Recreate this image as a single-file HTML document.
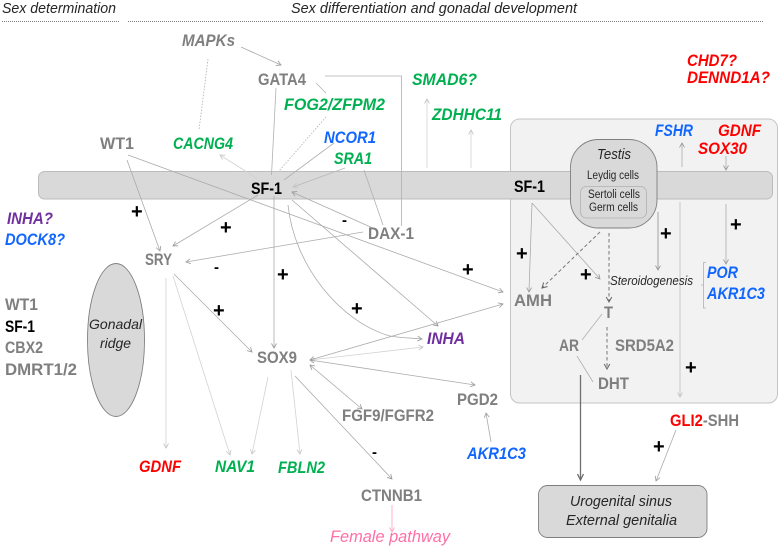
<!DOCTYPE html>
<html><head><meta charset="utf-8"><style>
html,body{margin:0;padding:0;background:#fff}
svg{display:block;filter:blur(.3px)}
text{font-family:"Liberation Sans",sans-serif;font-size:16.5px;font-weight:bold;fill:#7f7f7f}
.i{font-style:italic}
.g{font-style:italic;fill:#00b050}
.b{font-style:italic;fill:#1166ff}
.r{font-style:italic;fill:#ff0000}
.p{font-style:italic;fill:#7030a0}
.k{fill:#000}
.n{font-weight:normal;font-style:italic;fill:#262626;font-size:15px}
.s{font-weight:normal;fill:#262626;font-size:11.5px}
.pm{fill:#000;font-size:20px}
.l{fill:none;stroke:#b0b0b0;stroke-width:.8}
.a{fill:none;stroke:#ababab;stroke-width:.8;marker-end:url(#m)}
.e{fill:none;stroke:#ababab;stroke-width:.8;marker-end:url(#m);marker-start:url(#m)}
.c{fill:none;stroke:#d2d2d2;stroke-width:.8;marker-end:url(#mc)}
.d{fill:none;stroke:#777;stroke-width:1;stroke-dasharray:3.5 2.5;marker-end:url(#md)}
</style></head><body>
<svg width="780" height="548" viewBox="0 0 780 548" xmlns="http://www.w3.org/2000/svg">
<defs>
<marker id="m" markerUnits="userSpaceOnUse" markerWidth="8" markerHeight="8" refX="6" refY="3.5" orient="auto-start-reverse"><path d="M1.5,1 L6,3.5 L1.5,6" fill="none" stroke="#999" stroke-width=".8"/></marker>
<marker id="mc" markerUnits="userSpaceOnUse" markerWidth="8" markerHeight="8" refX="6" refY="3.5" orient="auto-start-reverse"><path d="M1.5,1 L6,3.5 L1.5,6" fill="none" stroke="#c4c4c4" stroke-width=".8"/></marker>
<marker id="md" markerUnits="userSpaceOnUse" markerWidth="8" markerHeight="8" refX="6" refY="3.5" orient="auto"><path d="M1,.7 L6,3.5 L1,6.3" fill="none" stroke="#666" stroke-width="1"/></marker>
<marker id="mp" markerUnits="userSpaceOnUse" markerWidth="8" markerHeight="8" refX="6" refY="3.5" orient="auto"><path d="M1.5,1 L6,3.5 L1.5,6" fill="none" stroke="#ff9fc2" stroke-width=".8"/></marker>
<marker id="mk" markerUnits="userSpaceOnUse" markerWidth="10" markerHeight="10" refX="7" refY="4" orient="auto"><path d="M1,1 L7,4 L1,7" fill="none" stroke="#666" stroke-width="1.2"/></marker>
</defs>

<!-- panels -->
<rect x="510.5" y="119" width="267" height="284" rx="9" fill="#f2f2f2" stroke="#c4c4c4"/>
<rect x="38.5" y="171.5" width="734" height="27.5" rx="6" fill="#d9d9d9" stroke="#bcbcbc"/>
<ellipse cx="116" cy="340" rx="28.5" ry="76.5" fill="#d9d9d9" stroke="#7f7f7f" stroke-width=".9"/>
<rect x="570.5" y="139.5" width="86.5" height="88.5" rx="28" fill="#d9d9d9" stroke="#7f7f7f" stroke-width=".9"/>
<rect x="580.5" y="186.5" width="66" height="31.5" rx="6" fill="#d9d9d9" stroke="#b0b0b0" stroke-width=".8"/>
<rect x="538.5" y="485.5" width="168.5" height="52" rx="9" fill="#d9d9d9" stroke="#7f7f7f" stroke-width=".9"/>

<!-- dotted header rules -->
<line x1="2" y1="21.5" x2="120" y2="21.5" stroke="#808080" stroke-dasharray="1 1"/>
<line x1="128" y1="21.5" x2="764" y2="21.5" stroke="#808080" stroke-dasharray="1 1"/>

<!-- connectors -->
<line class="a" x1="241" y1="47" x2="281" y2="65"/>
<line class="l" x1="208" y1="59" x2="199" y2="130" stroke-dasharray="1.5 1.5"/>
<line class="l" x1="276" y1="88" x2="271.5" y2="175"/>
<path class="l" d="M325,76 H401.5 V226"/>
<line class="l" x1="316" y1="83" x2="326" y2="93"/>
<line class="l" x1="326" y1="117" x2="279" y2="171" stroke-dasharray="1.5 1.5"/>
<line class="l" x1="334" y1="143" x2="284" y2="180"/>
<line class="c" x1="345" y1="168" x2="293" y2="187" style="stroke:#b8b8b8"/>
<line class="l" x1="364" y1="170" x2="383" y2="225"/>
<line class="a" x1="375" y1="229" x2="292" y2="192"/>
<line class="a" x1="363" y1="232" x2="186" y2="262"/>
<line class="a" x1="127" y1="160" x2="160" y2="251"/>
<line class="a" x1="128" y1="155" x2="503" y2="292"/>
<line class="c" x1="258" y1="179" x2="220" y2="155"/>
<line class="a" x1="258" y1="195" x2="173" y2="246"/>
<line class="a" x1="274" y1="196" x2="274" y2="348"/>
<line class="a" x1="292" y1="200" x2="438" y2="326"/>
<path class="a" d="M288,205 C294,265 340,322 390,336 C402,338 412,338 422,339"/>
<line class="e" x1="310" y1="360" x2="503" y2="304"/>
<line class="c" x1="310" y1="360" x2="423" y2="347"/>
<line class="e" x1="310" y1="360" x2="475" y2="385"/>
<line class="e" x1="310" y1="365" x2="362" y2="409"/>
<line class="a" x1="295" y1="376" x2="392" y2="479"/>
<line class="c" x1="268" y1="377" x2="252" y2="454"/>
<line class="c" x1="291" y1="370" x2="300" y2="454"/>
<line class="c" x1="166" y1="278" x2="166" y2="448"/>
<line class="c" x1="173" y1="276" x2="230" y2="455"/>
<line class="a" x1="174" y1="274" x2="252" y2="352"/>
<line x1="392" y1="505" x2="392" y2="532" fill="none" stroke="#ff9fc2" stroke-width=".8" marker-end="url(#mp)"/>
<line class="a" x1="491" y1="442" x2="486" y2="413"/>
<line class="c" x1="427" y1="168" x2="427" y2="99"/>
<line class="c" x1="471" y1="168" x2="471" y2="130"/>
<line class="a" x1="682" y1="167" x2="682" y2="143"/>
<line class="a" x1="726" y1="156" x2="726" y2="170"/>
<line class="a" x1="532" y1="203" x2="529" y2="292"/>
<line class="a" x1="532" y1="203" x2="600" y2="279"/>
<line class="d" x1="600" y1="232" x2="542" y2="288"/>
<line class="d" x1="609" y1="233" x2="609" y2="302"/>
<line class="a" x1="658" y1="212" x2="658" y2="270" style="stroke:#8c8c8c"/>
<line class="c" x1="680" y1="202" x2="680" y2="397" style="stroke:#bdbdbd"/>
<line class="a" x1="726" y1="204" x2="726" y2="264"/>
<path class="l" d="M706,262.5 H703.5 V308 H706 M703.5,285 H701"/>
<line class="l" x1="602" y1="314" x2="582" y2="340"/>
<line class="l" x1="577" y1="356" x2="593" y2="382"/>
<line class="d" x1="607" y1="327" x2="607" y2="369"/>
<line x1="580.5" y1="375" x2="580.5" y2="480" stroke="#6f6f6f" stroke-width="1.3" marker-end="url(#mk)"/>
<line class="a" x1="676" y1="430" x2="656" y2="481"/>

<!-- headers -->
<text class="n" x="2" y="13" textLength="114" lengthAdjust="spacingAndGlyphs">Sex determination</text>
<text class="n" x="291" y="13" textLength="286" lengthAdjust="spacingAndGlyphs">Sex differentiation and gonadal development</text>

<!-- labels -->
<text class="i" x="182" y="46" textLength="53" lengthAdjust="spacingAndGlyphs">MAPKs</text>
<text x="258" y="85" textLength="48" lengthAdjust="spacingAndGlyphs">GATA4</text>
<text class="g" x="284" y="110" textLength="101" lengthAdjust="spacingAndGlyphs">FOG2/ZFPM2</text>
<text class="b" x="324" y="143" textLength="52" lengthAdjust="spacingAndGlyphs">NCOR1</text>
<text class="g" x="334" y="164" textLength="38" lengthAdjust="spacingAndGlyphs">SRA1</text>
<text class="g" x="173" y="149" textLength="60" lengthAdjust="spacingAndGlyphs">CACNG4</text>
<text x="100" y="149" textLength="34" lengthAdjust="spacingAndGlyphs">WT1</text>
<text class="k" x="251" y="194" textLength="31" lengthAdjust="spacingAndGlyphs">SF-1</text>
<text class="p" x="7" y="224" textLength="46" lengthAdjust="spacingAndGlyphs">INHA?</text>
<text class="b" x="5" y="245" textLength="60" lengthAdjust="spacingAndGlyphs">DOCK8?</text>
<text x="368" y="239" textLength="46" lengthAdjust="spacingAndGlyphs">DAX-1</text>
<text x="145" y="265" textLength="27" lengthAdjust="spacingAndGlyphs">SRY</text>
<text class="g" x="412" y="85" textLength="65" lengthAdjust="spacingAndGlyphs">SMAD6?</text>
<text class="g" x="432" y="120" textLength="70" lengthAdjust="spacingAndGlyphs">ZDHHC11</text>
<text class="r" x="687" y="66" textLength="50" lengthAdjust="spacingAndGlyphs">CHD7?</text>
<text class="r" x="687" y="83" textLength="83" lengthAdjust="spacingAndGlyphs">DENND1A?</text>
<text class="b" x="655" y="136" textLength="38" lengthAdjust="spacingAndGlyphs">FSHR</text>
<text class="r" x="718" y="136" textLength="43" lengthAdjust="spacingAndGlyphs">GDNF</text>
<text class="r" x="698" y="154" textLength="49" lengthAdjust="spacingAndGlyphs">SOX30</text>
<text class="n" x="597" y="159" textLength="34" lengthAdjust="spacingAndGlyphs">Testis</text>
<text class="s" x="587" y="179" textLength="52" lengthAdjust="spacingAndGlyphs">Leydig cells</text>
<text class="s" x="588" y="198" textLength="52" lengthAdjust="spacingAndGlyphs">Sertoli cells</text>
<text class="s" x="589" y="211" textLength="49" lengthAdjust="spacingAndGlyphs">Germ cells</text>
<text class="k" x="514" y="192" textLength="31" lengthAdjust="spacingAndGlyphs">SF-1</text>
<text x="5" y="310" textLength="33" lengthAdjust="spacingAndGlyphs">WT1</text>
<text class="k" x="5" y="332" textLength="30" lengthAdjust="spacingAndGlyphs">SF-1</text>
<text x="5" y="353" textLength="38" lengthAdjust="spacingAndGlyphs">CBX2</text>
<text x="5" y="375" textLength="72" lengthAdjust="spacingAndGlyphs">DMRT1/2</text>
<text class="n" x="89" y="329" textLength="53" lengthAdjust="spacingAndGlyphs" style="font-size:14px">Gonadal</text>
<text class="n" x="100" y="348" textLength="31" lengthAdjust="spacingAndGlyphs" style="font-size:14px">ridge</text>
<text x="257" y="363" textLength="40" lengthAdjust="spacingAndGlyphs">SOX9</text>
<text class="r" x="139" y="472" textLength="42" lengthAdjust="spacingAndGlyphs">GDNF</text>
<text class="g" x="215" y="472" textLength="40" lengthAdjust="spacingAndGlyphs">NAV1</text>
<text class="g" x="278" y="473" textLength="47" lengthAdjust="spacingAndGlyphs">FBLN2</text>
<text x="342" y="421" textLength="92" lengthAdjust="spacingAndGlyphs">FGF9/FGFR2</text>
<text x="361" y="501" textLength="61" lengthAdjust="spacingAndGlyphs">CTNNB1</text>
<text x="330" y="542" textLength="120" lengthAdjust="spacingAndGlyphs" style="font-weight:normal;font-style:italic;fill:#ff6fa5">Female pathway</text>
<text x="457" y="405" textLength="41" lengthAdjust="spacingAndGlyphs">PGD2</text>
<text class="b" x="467" y="459" textLength="59" lengthAdjust="spacingAndGlyphs">AKR1C3</text>
<text class="p" x="427" y="344" textLength="38" lengthAdjust="spacingAndGlyphs">INHA</text>
<text x="514" y="306" textLength="38" lengthAdjust="spacingAndGlyphs">AMH</text>
<text x="604" y="318" textLength="9" lengthAdjust="spacingAndGlyphs">T</text>
<text x="559" y="351" textLength="20" lengthAdjust="spacingAndGlyphs">AR</text>
<text x="615" y="351" textLength="59" lengthAdjust="spacingAndGlyphs">SRD5A2</text>
<text x="598" y="389" textLength="31" lengthAdjust="spacingAndGlyphs">DHT</text>
<text class="n" x="610" y="285" textLength="83" lengthAdjust="spacingAndGlyphs" style="font-size:12.5px">Steroidogenesis</text>
<text class="b" x="707" y="278" textLength="31" lengthAdjust="spacingAndGlyphs">POR</text>
<text class="b" x="707" y="299" textLength="58" lengthAdjust="spacingAndGlyphs">AKR1C3</text>
<text x="670" y="426" textLength="69" lengthAdjust="spacingAndGlyphs"><tspan fill="#ff0000">GLI2</tspan>-SHH</text>
<text class="n" x="570" y="506" textLength="102" lengthAdjust="spacingAndGlyphs">Urogenital sinus</text>
<text class="n" x="566" y="525" textLength="111" lengthAdjust="spacingAndGlyphs">External genitalia</text>

<!-- signs -->
<text class="pm" x="131" y="218">+</text>
<text class="pm" x="220" y="234">+</text>
<text class="pm" x="277" y="281">+</text>
<text class="pm" x="213" y="317">+</text>
<text class="pm" x="351" y="315">+</text>
<text class="pm" x="462" y="276">+</text>
<text class="pm" x="516" y="260">+</text>
<text class="pm" x="580" y="281">+</text>
<text class="pm" x="660" y="240">+</text>
<text class="pm" x="730" y="231">+</text>
<text class="pm" x="685" y="374">+</text>
<text class="pm" x="653" y="453">+</text>
<text class="pm" x="342" y="225" style="font-size:15px">-</text>
<text class="pm" x="214" y="272" style="font-size:15px">-</text>
<text class="pm" x="372" y="457" style="font-size:15px">-</text>
</svg>
</body></html>
